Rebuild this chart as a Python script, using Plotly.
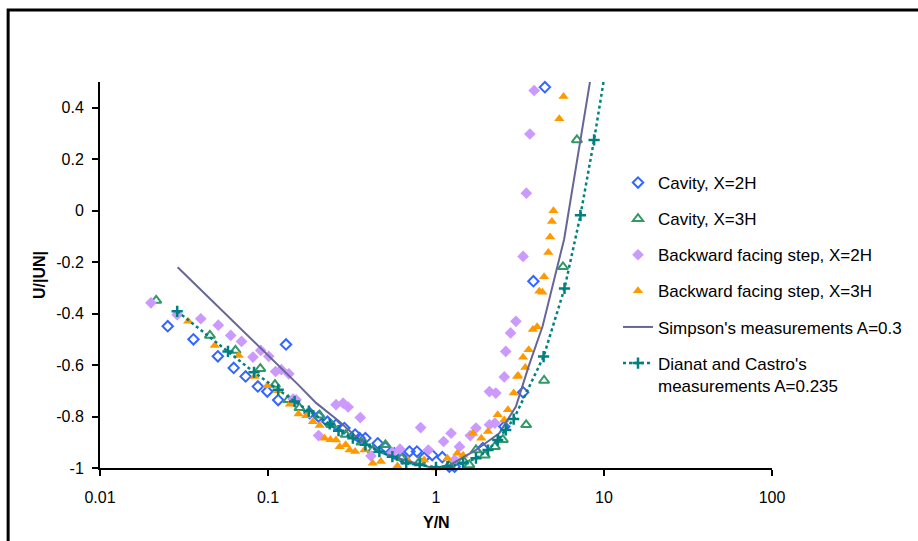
import plotly.graph_objects as go

# ---- data -------------------------------------------------------------
cav2_x = [0.0253, 0.036, 0.0503, 0.0625, 0.0736, 0.087, 0.099, 0.115, 0.128, 0.177,
          0.2, 0.226, 0.254, 0.285, 0.33, 0.351, 0.38, 0.45, 0.5, 0.565, 0.633, 0.695,
          0.77, 0.85, 0.95, 1.09, 1.2, 1.29, 1.9, 2.55, 3.3, 3.8, 4.45]
cav2_y = [-0.449, -0.50, -0.566, -0.611, -0.644, -0.683, -0.703, -0.736, -0.52, -0.787,
          -0.80, -0.82, -0.832, -0.845, -0.87, -0.884, -0.884, -0.904, -0.92, -0.943, -0.962, -0.936,
          -0.936, -0.96, -0.95, -0.958, -0.995, -0.995, -0.923, -0.839, -0.706, -0.274, 0.48]

cav3_x = [0.0216, 0.0451, 0.064, 0.09, 0.11, 0.132, 0.154, 0.203, 0.238, 0.29, 0.36, 0.42,
          0.50, 0.62, 0.8, 1.2, 1.45, 1.58, 1.73, 1.95, 2.24, 2.5, 3.44, 4.4, 5.7, 6.9]
cav3_y = [-0.349, -0.485, -0.543, -0.614, -0.676, -0.735, -0.766, -0.795, -0.832, -0.87, -0.90, -0.93,
          -0.91, -0.96, -0.975, -0.99, -0.97, -0.988, -0.93, -0.95, -0.917, -0.89, -0.832, -0.66, -0.218, 0.275]

bfs2_x = [0.0201, 0.0288, 0.0398, 0.0506, 0.06, 0.0696, 0.0814, 0.0905, 0.101, 0.111, 0.12,
          0.133, 0.141, 0.147, 0.2, 0.254, 0.28, 0.30, 0.354, 0.41, 0.55, 0.61, 0.81, 0.9,
          1.11, 1.23, 1.29, 1.38, 1.6, 1.73, 2.08, 2.08, 2.24, 2.27, 2.55, 2.6, 2.78, 2.99,
          3.3, 3.45, 3.62, 3.84]
bfs2_y = [-0.358, -0.404, -0.42, -0.445, -0.485, -0.508, -0.569, -0.543, -0.566, -0.625, -0.618,
          -0.634, -0.732, -0.735, -0.874, -0.754, -0.748, -0.763, -0.804, -0.953, -0.94, -0.927, -0.843, -0.93,
          -0.897, -0.865, -0.969, -0.917, -0.874, -0.845, -0.703, -0.832, -0.826, -0.709, -0.646, -0.547, -0.475, -0.43,
          -0.178, 0.068, 0.298, 0.467]

bfs3_x = [0.0335, 0.0482, 0.067, 0.0833, 0.099, 0.115, 0.135, 0.152, 0.169, 0.185, 0.203,
          0.217, 0.235, 0.254, 0.267, 0.29, 0.306, 0.33, 0.375, 0.42, 0.47, 0.59, 0.68, 0.85,
          1.0, 1.17, 1.34, 1.45, 1.66, 1.86, 2.04, 2.33, 2.55, 2.68, 2.9, 3.04, 3.08, 3.3, 3.4,
          3.56, 3.77, 4.0, 4.12, 4.3, 4.4, 4.66, 4.78, 4.9, 5.0, 5.42, 5.74]
bfs3_y = [-0.43, -0.524, -0.563, -0.644, -0.68, -0.70, -0.752, -0.79, -0.797, -0.82, -0.835,
          -0.884, -0.89, -0.891, -0.917, -0.91, -0.93, -0.936, -0.93, -0.982, -0.975, -0.992, -0.969, -0.969,
          -1.0, -0.962, -0.943, -0.95, -0.865, -0.884, -0.858, -0.793, -0.813, -0.774, -0.709, -0.644, -0.641, -0.57, -0.609,
          -0.54, -0.462, -0.451, -0.313, -0.317, -0.257, -0.163, -0.102, -0.042, 0.0, 0.357, 0.444]

simpson_x = [0.029, 0.06, 0.1, 0.15, 0.194, 0.267, 0.351, 0.482, 0.695, 0.956, 1.2,
             1.73, 2.38, 2.99, 3.56, 4.31, 5.79, 8.34]
simpson_y = [-0.22, -0.42, -0.563, -0.674, -0.748, -0.82, -0.891, -0.943, -0.975, -1.0, -0.99,
             -0.93, -0.865, -0.761, -0.605, -0.449, -0.111, 0.519]

dianat_x = [0.0288, 0.0578, 0.0826, 0.115, 0.144, 0.175, 0.233, 0.263, 0.32, 0.38, 0.46,
            0.55, 0.665, 0.8, 1.0, 1.17, 1.45, 1.73, 2.04, 2.33, 2.6, 2.9, 4.37, 5.82,
            7.24, 8.73, 10.4]
dianat_y = [-0.391, -0.547, -0.628, -0.696, -0.742, -0.779, -0.829, -0.855, -0.884, -0.91, -0.936,
            -0.956, -0.982, -0.988, -0.997, -0.995, -0.982, -0.962, -0.93, -0.891, -0.852, -0.81, -0.567, -0.302,
            -0.018, 0.275, 0.58]

x_tickvals = [0.01, 0.1, 1, 10, 100]
x_ticktext = ["0.01", "0.1", "1", "10", "100"]
y_tickvals = [-1, -0.8, -0.6, -0.4, -0.2, 0, 0.2, 0.4]
y_ticktext = ["-1", "-0.8", "-0.6", "-0.4", "-0.2", "0", "0.2", "0.4"]

FONT = "Liberation Sans, Arial, sans-serif"

fig = go.Figure()

fig.add_trace(go.Scatter(
    x=cav2_x, y=cav2_y, mode="markers", name="Cavity, X=2H", legendgroup="a",
    cliponaxis=False,
    marker=dict(symbol="diamond-open", size=8, color="#3366FF", line=dict(width=2, color="#3366FF"))))
fig.add_trace(go.Scatter(
    x=cav3_x, y=cav3_y, mode="markers", name="Cavity, X=3H", legendgroup="b",
    cliponaxis=False,
    marker=dict(symbol="triangle-up-open", size=9, color="#339966", line=dict(width=2, color="#339966"))))
fig.add_trace(go.Scatter(
    x=bfs2_x, y=bfs2_y, mode="markers", name="Backward facing step, X=2H", legendgroup="c",
    cliponaxis=False,
    marker=dict(symbol="diamond", size=9, color="#CC99FF")))
fig.add_trace(go.Scatter(
    x=bfs3_x, y=bfs3_y, mode="markers", name="Backward facing step, X=3H", legendgroup="d",
    cliponaxis=False,
    marker=dict(symbol="triangle-up", size=9, color="#FF9900")))
fig.add_trace(go.Scatter(
    x=simpson_x, y=simpson_y, mode="lines", name="Simpson's measurements A=0.3", legendgroup="e",
    line=dict(color="#666699", width=2)))
fig.add_trace(go.Scatter(
    x=dianat_x, y=dianat_y, mode="lines+markers",
    name="Dianat and Castro's<br>measurements A=0.235", legendgroup="f",
    line=dict(color="#008080", width=2.5, dash="dot"),
    marker=dict(symbol="cross-thin", size=8, color="#008080", line=dict(width=2.5, color="#008080"))))

ML, MR, MT, MB = 100, 145, 82, 73
W, H = 918, 541
PW, PH = W - ML - MR, H - MT - MB


def px_x(p):
    return (p - ML) / PW


def px_y(p):
    return (H - MB - p) / PH


fig.update_layout(
    width=W, height=H,
    margin=dict(l=ML, r=MR, t=MT, b=MB),
    paper_bgcolor="white", plot_bgcolor="white",
    font=dict(family=FONT, size=16, color="black"),
    showlegend=True,
    legend=dict(x=px_x(618), y=px_y(165), xanchor="left", yanchor="top",
                font=dict(family=FONT, size=17, color="black"),
                tracegroupgap=11, valign="top", bgcolor="rgba(0,0,0,0)"),
    xaxis=dict(type="log", range=[-2, 2], tickvals=x_tickvals, ticktext=x_ticktext,
               showgrid=False, zeroline=False, showline=True, linecolor="black", linewidth=2,
               ticks="outside", ticklen=6, tickwidth=2, tickcolor="black",
               tickfont=dict(family=FONT, size=16), ticklabelstandoff=8),
    yaxis=dict(range=[-1, 0.5], tickvals=y_tickvals, ticktext=y_ticktext,
               showgrid=False, zeroline=False, showline=True, linecolor="black", linewidth=2,
               ticks="outside", ticklen=6, tickwidth=2, tickcolor="black",
               tickfont=dict(family=FONT, size=16), ticklabelstandoff=5),
    annotations=[
        dict(text="<b>U/|UN|</b>", xref="paper", yref="paper", x=px_x(39), y=px_y(275),
             textangle=-90, showarrow=False, font=dict(family=FONT, size=16),
             xanchor="center", yanchor="middle"),
        dict(text="<b>Y/N</b>", xref="paper", yref="paper", x=px_x(437), y=px_y(522),
             showarrow=False, font=dict(family=FONT, size=16),
             xanchor="center", yanchor="middle"),
    ],
    shapes=[
        dict(type="rect", xref="paper", yref="paper",
             x0=px_x(8), x1=px_x(940), y0=px_y(560), y1=px_y(10),
             line=dict(color="black", width=3), fillcolor="rgba(0,0,0,0)", layer="above"),
    ],
)

fig.write_html("out.html")
